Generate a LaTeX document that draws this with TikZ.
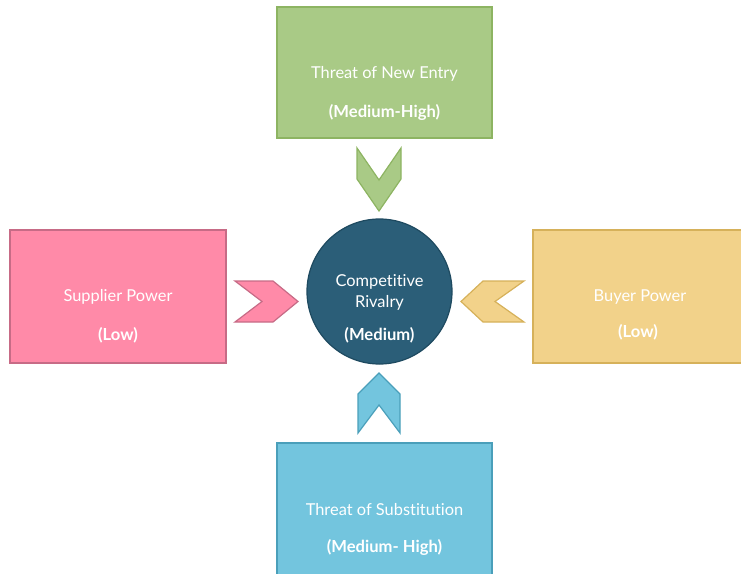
\documentclass[tikz,border=0pt]{standalone}
\usepackage{fontspec}
\setmainfont{Lato}[Ligatures=NoCommon]
\definecolor{gfill}{HTML}{A9CA86}\definecolor{gline}{HTML}{8DB462}
\definecolor{pfill}{HTML}{FF8AA8}\definecolor{pline}{HTML}{C76B86}
\definecolor{yfill}{HTML}{F2D28A}\definecolor{yline}{HTML}{D6B15A}
\definecolor{bfill}{HTML}{73C5DE}\definecolor{bline}{HTML}{4A9FBA}
\definecolor{cfill}{HTML}{2B5E78}\definecolor{cline}{HTML}{1E4A60}
\begin{document}
\begin{tikzpicture}[x=1pt,y=-1pt,
  forcebox/.style={draw=#1line,fill=#1fill,line width=1.4pt,inner sep=0pt,rectangle},
  lbl/.style={text=white,font=\fontsize{16.4}{19}\selectfont,inner sep=0pt},
  blbl/.style={lbl,font=\fontsize{16.6}{19}\selectfont\bfseries},
  chev/.style={draw=#1line,fill=#1fill,line width=1.2pt,line join=miter}]
\useasboundingbox (0,0) rectangle (741,573);
\clip (0,0) rectangle (741,573);
% boxes
\node[forcebox=g,minimum width=215pt,minimum height=131pt] (entry) at (384.5,72.5) {};
\node[forcebox=p,minimum width=216pt,minimum height=133pt] (supplier) at (118,296.5) {};
\node[forcebox=y,minimum width=210pt,minimum height=133pt] (buyer) at (638,296.5) {};
\node[forcebox=b,minimum width=215pt,minimum height=140pt] (subst) at (384.5,513) {};
\node[circle,draw=cline,fill=cfill,line width=1.2pt,minimum size=145pt,inner sep=0pt] (rival) at (379.5,291.5) {};
% labels
\node[lbl] (entry1) at (384.5,74) {Threat of New Entry};
\node[blbl] (entry2) at (384.5,112) {(Medium-High)};
\node[lbl] (sup1) at (118,297) {Supplier Power};
\node[blbl] (sup2) at (118,335) {(Low)};
\node[lbl] (buy1) at (640,297) {Buyer Power};
\node[blbl] (buy2) at (638,332) {(Low)};
\node[lbl] (sub1) at (384.5,510) {Threat of Substitution};
\node[blbl] (sub2) at (384.5,547) {(Medium- High)};
\node[lbl] (riv1) at (379.5,282) {Competitive};
\node[lbl] (riv2) at (379.5,303) {Rivalry};
\node[blbl] (riv3) at (379.5,335) {(Medium)};
% chevrons
\draw[chev=g] (357,148) -- (379,180) -- (401,148) -- (401,179) -- (379,211) -- (357,179) -- cycle;
\draw[chev=p] (235,281) -- (273,281) -- (298,301.5) -- (273,322) -- (235,322) -- (262,301.5) -- cycle;
\draw[chev=y] (524,281) -- (483,281) -- (461,301.5) -- (483,322) -- (524,322) -- (495,301.5) -- cycle;
\draw[chev=b] (379,373) -- (400,394) -- (400,433) -- (379,405) -- (358,433) -- (358,394) -- cycle;
\end{tikzpicture}
\end{document}
